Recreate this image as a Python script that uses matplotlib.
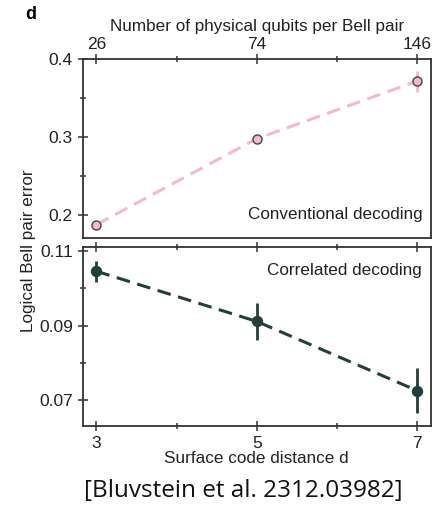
import numpy as np
import matplotlib.pyplot as plt

plt.rcParams['font.family'] = ['Liberation Sans', 'DejaVu Sans']

# data
distance = [3, 5, 7]
qubits_per_pair = ['26', '74', '146']

conv_err = [0.1876, 0.298, 0.372]
conv_yerr = [0.003, 0.003, 0.0135]

corr_err = [0.1046, 0.0911, 0.0725]
corr_yerr = [0.0028, 0.005, 0.006]

pink = '#f6b9c9'
teal = '#213f3b'
spine_col = '#333333'


def style_axes(ax):
    for s in ax.spines.values():
        s.set_linewidth(1.3)
        s.set_color(spine_col)
    ax.tick_params(which='both', direction='inout', color=spine_col,
                   width=1.1, labelsize=12.5, labelcolor='#222222')
    ax.tick_params(which='major', length=7)
    ax.tick_params(which='minor', length=5)
    ax.set_xlim(2.83, 7.17)
    ax.set_xticks(distance)
    ax.set_xticks([4, 6], minor=True)


fig = plt.figure(figsize=(4.33, 5.17), dpi=100)
ax1 = fig.add_axes([0.191, 0.5397, 0.804, 0.3456])
ax2 = fig.add_axes([0.191, 0.176, 0.804, 0.3462])

# top panel: conventional decoding
ax1.errorbar(distance, conv_err, yerr=conv_yerr, fmt='o', ms=6.5,
             mfc=pink, mec='#444444', mew=1.0, ecolor=pink, elinewidth=2,
             zorder=3)
ax1.plot(distance, conv_err, '--', color=pink, lw=2.2, dashes=(4.5, 2.5), zorder=2)
style_axes(ax1)
ax1.set_ylim(0.1705, 0.4)
ax1.set_yticks([0.2, 0.3, 0.4])
ax1.set_yticklabels(['0.2', '0.3', '0.4'])
ax1.set_yticks([0.25, 0.35], minor=True)
ax1.xaxis.tick_top()
ax1.xaxis.set_label_position('top')
ax1.tick_params(axis='x', which='both', bottom=False, top=True, pad=2)
ax1.set_xticklabels(qubits_per_pair)
ax1.set_xlabel('Number of physical qubits per Bell pair', fontsize=12.3,
               color='#222222', labelpad=4)
ax1.text(0.975, 0.09, 'Conventional decoding', transform=ax1.transAxes,
         ha='right', va='bottom', fontsize=12.3, color='#222222')

# bottom panel: correlated decoding
ax2.errorbar(distance, corr_err, yerr=corr_yerr, fmt='o', ms=7.2,
             mfc=teal, mec=teal, ecolor=teal, elinewidth=2, zorder=3)
ax2.plot(distance, corr_err, '--', color=teal, lw=2.2, dashes=(4.5, 2.5), zorder=2)
style_axes(ax2)
ax2.set_ylim(0.063, 0.1111)
ax2.set_yticks([0.07, 0.09, 0.11])
ax2.set_yticklabels(['0.07', '0.09', '0.11'])
ax2.set_yticks([0.08, 0.10], minor=True)
ax2.tick_params(axis='x', which='both', top=True, labeltop=False)
ax2.set_xticklabels([str(d) for d in distance])
ax2.set_xlabel('Surface code distance d', fontsize=12.3, color='#222222',
               labelpad=0)
ax2.text(0.975, 0.91, 'Correlated decoding', transform=ax2.transAxes,
         ha='right', va='top', fontsize=12.3, color='#222222')

fig.text(0.065, 0.516, 'Logical Bell pair error', rotation=90,
         ha='center', va='center', fontsize=12.3, color='#222222')
fig.text(0.058, 0.972, 'd', fontweight='bold', fontsize=13,
         ha='left', va='center')
fig.text(0.563, 0.05, '[Bluvstein et al. 2312.03982]',
         family=['Open Sans', 'DejaVu Sans'], fontsize=17.5,
         ha='center', va='center', color='#111111')

fig.savefig('out.png', dpi=100)
